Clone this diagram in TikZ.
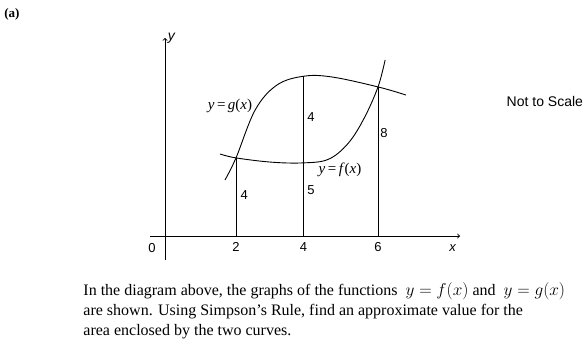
\documentclass[tikz,border=0pt]{standalone}
\usepackage{fontspec}
\setmainfont{Liberation Serif}
\newfontfamily\labelfont{Liberation Sans}
\newcommand{\yeq}[1]{\textit{y}\,=\,\textit{#1}(\textit{x})}

\begin{document}
\begin{tikzpicture}[x=35.5pt,y=35.5pt,line width=0.9pt]
\useasboundingbox (-4.648,-2.930) rectangle (11.915,6.648);

\draw[->] (-0.42,0) -- (8.31,0);
\draw[->] (0,-0.68) -- (0,5.58);

\draw (8.1,-0.34) node[font=\labelfont\itshape\fontsize{13}{13}\selectfont]{x};
\draw (0,5.58) node[anchor=south west,font=\labelfont\itshape\fontsize{14}{14}\selectfont,yshift=-9pt,xshift=-1pt]{y};

\draw (-0.37,-0.34) node[font=\labelfont\fontsize{13}{13}\selectfont]{0};
\draw (2,-0.32) node[font=\labelfont\fontsize{13}{13}\selectfont]{2};
\draw (3.9,-0.32) node[font=\labelfont\fontsize{13}{13}\selectfont]{4};
\draw (6,-0.32) node[font=\labelfont\fontsize{13}{13}\selectfont]{6};

% the two curves
\draw plot[smooth,tension=0.6] coordinates {(1.55,2.31) (2,2.2) (3,2.08) (3.9,2.06)
  (4.6,2.16) (5.15,2.6) (5.6,3.3) (6,4.2) (6.2,4.96)};
\draw plot[smooth,tension=0.6] coordinates {(1.69,1.58) (2,2.2) (2.54,3.55) (3.15,4.25)
  (3.9,4.5) (4.7,4.48) (6,4.2) (6.79,3.97)};

% ordinates
\draw (2,0) -- (2,2.2);
\draw (3.9,0) -- (3.9,4.5);
\draw (6,0) -- (6,4.2);

\draw (2.23,1.15) node[font=\labelfont\fontsize{13}{13}\selectfont]{4};
\draw (4.11,1.3) node[font=\labelfont\fontsize{13}{13}\selectfont]{5};
\draw (4.11,3.35) node[font=\labelfont\fontsize{13}{13}\selectfont]{4};
\draw (6.17,2.9) node[font=\labelfont\fontsize{13}{13}\selectfont]{8};

\draw (4.93,1.86) node[font=\fontsize{15}{15}\selectfont]{\yeq{f}};
\draw (1.83,3.66) node[font=\fontsize{15}{15}\selectfont]{\yeq{g}};

\draw (10.7,3.8) node[font=\labelfont\fontsize{14}{14}\selectfont]{Not to Scale};
\draw (-4.31,6.25) node[font=\bfseries\fontsize{13}{13}\selectfont]{(a)};

\draw (-2.31,-2.11) node[anchor=west,align=left,inner sep=0pt,font=\fontsize{16}{20}\selectfont]
  {In the diagram above, the graphs of the functions \ $y=f(x)$ and \ $y=g(x)$\\
   are shown. Using Simpson's Rule, find an approximate value for the\\
   area enclosed by the two curves.};
\end{tikzpicture}
\end{document}
